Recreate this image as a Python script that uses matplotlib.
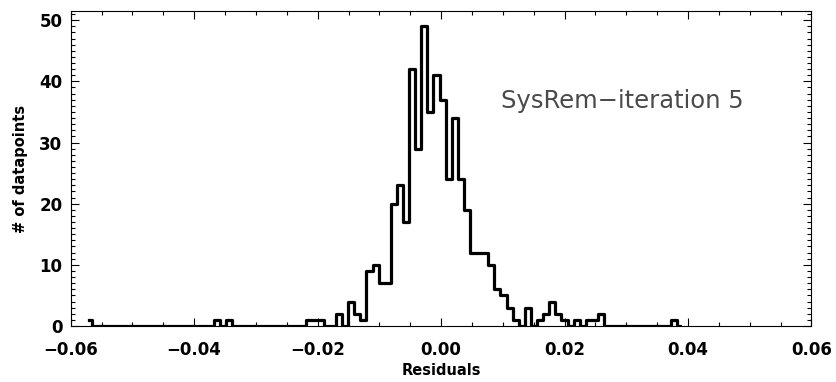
import numpy as np
import matplotlib
matplotlib.use("Agg")
import matplotlib.pyplot as plt
from matplotlib.ticker import MultipleLocator, FuncFormatter

# histogram of residuals
bin_start = -0.0570      # centre of the first bin
bin_width = 0.000987
counts = [
    1, 0, 0, 0, 0, 0, 0, 0, 0, 0,          # -0.057 ...
    0, 0, 0, 0, 0, 0, 0, 0, 0, 0,
    0, 1, 0, 1, 0, 0, 0, 0, 0, 0,
    0, 0, 0, 0, 0, 0, 1, 1, 1, 0,
    0, 2, 0, 4, 2, 1, 9, 10, 7, 7,
    20, 23, 17, 42, 29, 49, 35, 41, 37, 24,
    34, 24, 19, 12, 12, 12, 10, 6, 5, 3,
    1, 0, 3, 0, 1, 2, 4, 2, 1, 0,
    1, 0, 1, 1, 2, 0, 0, 0, 0, 0,
    0, 0, 0, 0, 0, 0, 1, 0,
]
label_text = "SysRem\u2212iteration 5"

centers = bin_start + bin_width * np.arange(len(counts))

fig = plt.figure(figsize=(8.37, 3.82), dpi=100)
ax = fig.add_axes([0.0845, 0.1466, 0.885, 0.8246])

ax.step(centers, counts, where="mid", color="black", lw=2.3)

ax.set_xlim(-0.06, 0.06)
ax.set_ylim(0, 51.5)
ax.xaxis.set_major_locator(MultipleLocator(0.02))
ax.xaxis.set_minor_locator(MultipleLocator(0.005))
ax.yaxis.set_major_locator(MultipleLocator(10))
ax.yaxis.set_minor_locator(MultipleLocator(1))
ax.xaxis.set_major_formatter(FuncFormatter(lambda v, p: f"{v:.2f}".replace("-", "\u2212")))

ax.tick_params(which="both", direction="in", top=True, right=True, width=0.8)
ax.tick_params(which="major", length=6)
ax.tick_params(which="minor", length=3)
ax.tick_params(axis="x", which="major", pad=11)
ax.tick_params(axis="y", which="major", pad=6)
for lab in ax.get_xticklabels() + ax.get_yticklabels():
    lab.set_fontsize(12)
    lab.set_fontweight("bold")
for sp in ax.spines.values():
    sp.set_linewidth(0.8)

ax.set_xlabel("Residuals", fontsize=10.5, fontweight="bold", labelpad=3)
ax.set_ylabel("# of datapoints", fontsize=10.5, fontweight="bold", labelpad=8)

ax.text(0.0097, 36.8, label_text, fontsize=17.5, family="DejaVu Sans",
        color="#4a4a4a", va="center", ha="left")

fig.savefig("out.png", dpi=100)
